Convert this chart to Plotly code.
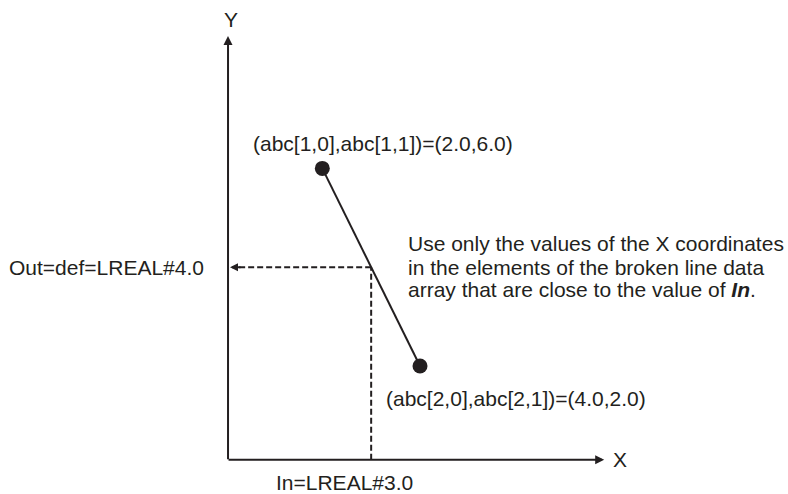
import plotly.graph_objects as go

# broken line data (abc array) and the lookup
line_x = [2.0, 4.0]
line_y = [6.0, 2.0]
in_val = 3.0
out_val = 4.0

labels = {
    "p1": "(abc[1,0],abc[1,1])=(2.0,6.0)",
    "p2": "(abc[2,0],abc[2,1])=(4.0,2.0)",
    "in": "In=LREAL#3.0",
    "out": "Out=def=LREAL#4.0",
}
note_lines = [
    "Use only the values of the X coordinates",
    "in the elements of the broken line data",
    "array that are close to the value of <b><i>In</i></b>.",
]

INK = "#231f20"
FONT = dict(family="Liberation Sans, Arial, sans-serif", size=21, color=INK)

# where the drawn axes sit / end (layout, not data)
ax_x0, ax_y0 = 0.07, 0.1
ax_xend, ax_yend = 7.77, 8.68

fig = go.Figure()

# dashed helper lines
fig.add_trace(go.Scatter(x=[in_val, in_val], y=[ax_y0, out_val], mode="lines",
                         line=dict(color=INK, width=2, dash="6px,3px"), hoverinfo="skip"))
fig.add_trace(go.Scatter(x=[in_val, ax_x0 + 0.2], y=[out_val, out_val], mode="lines",
                         line=dict(color=INK, width=2, dash="6px,3px"), hoverinfo="skip"))

# the broken line segment and its points
fig.add_trace(go.Scatter(x=line_x, y=line_y, mode="lines+markers",
                         line=dict(color=INK, width=2),
                         marker=dict(color=INK, size=15), hoverinfo="skip"))

annos = []
# axes with arrowheads
annos.append(dict(x=ax_xend, y=ax_y0, ax=ax_x0 - 0.02, ay=ax_y0, xref="x", yref="y",
                  axref="x", ayref="y", showarrow=True, arrowhead=2, arrowsize=0.9,
                  arrowwidth=2, arrowcolor=INK, text=""))
annos.append(dict(x=ax_x0, y=ax_yend, ax=ax_x0, ay=ax_y0 - 0.02, xref="x", yref="y",
                  axref="x", ayref="y", showarrow=True, arrowhead=2, arrowsize=0.9,
                  arrowwidth=2, arrowcolor=INK, text=""))
# arrowhead of the dashed Out line
annos.append(dict(x=ax_x0 + 0.04, y=out_val, ax=12, ay=0, xref="x", yref="y",
                  showarrow=True, arrowhead=2, arrowsize=0.8, arrowwidth=2,
                  arrowcolor=INK, text=""))

# axis letters
annos.append(dict(x=0.13, y=9.02, text="Y", showarrow=False, xanchor="center", yanchor="middle"))
annos.append(dict(x=7.9, y=ax_y0, text="X", showarrow=False, xanchor="left", yanchor="middle"))

# texts
annos.append(dict(x=0.55, y=6.51, text=labels["p1"], showarrow=False, xanchor="left", yanchor="middle"))
annos.append(dict(x=3.27, y=1.35, text=labels["p2"], showarrow=False, xanchor="left", yanchor="middle"))
annos.append(dict(x=2.46, y=-0.35, text=labels["in"], showarrow=False, xanchor="center", yanchor="middle"))
annos.append(dict(x=-0.38, y=out_val, text=labels["out"], showarrow=False, xanchor="right", yanchor="middle"))
for t, yy in zip(note_lines, [4.49, 4.0, 3.54]):
    annos.append(dict(x=3.72, y=yy, text=t, showarrow=False, xanchor="left", yanchor="middle"))

for a in annos:
    a.setdefault("xref", "x")
    a.setdefault("yref", "y")
    a["font"] = FONT

fig.update_layout(
    width=788, height=494,
    margin=dict(l=0, r=0, t=0, b=0),
    paper_bgcolor="white", plot_bgcolor="white",
    showlegend=False,
    annotations=annos,
    xaxis=dict(range=[-4.598, 11.533], visible=False, fixedrange=True),
    yaxis=dict(range=[-0.591, 9.409], visible=False, fixedrange=True),
)

# page body has a default 8px margin; drop it so the figure sits at the corner
fig.write_html("out.html", config={"displayModeBar": False},
               post_script="document.body.style.margin='0';")
